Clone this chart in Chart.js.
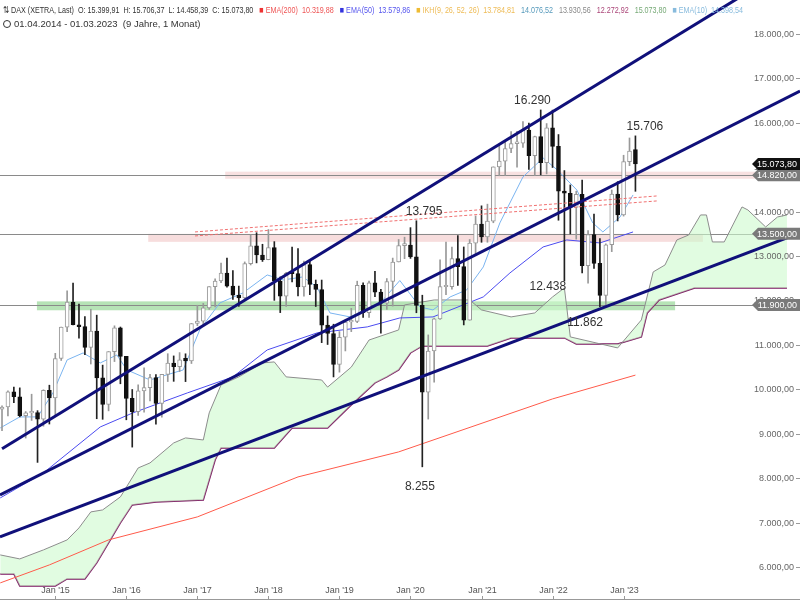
<!DOCTYPE html>
<html><head><meta charset="utf-8">
<script src="https://cdn.jsdelivr.net/npm/chart.js@4"></script>
<style>html,body{margin:0;padding:0;background:#fff}#w{width:800px;height:600px}</style>
</head><body><div id="w"><canvas id="c"></canvas></div>
<script>
// month index 0 = Apr 2014
const opens=[9556,9603,9943,9833,9407,9470,9474,9327,9980,
9806,10694,11402,11966,11454,11413,10945,11309,10259,9660,10850,11382,
10743,9798,9495,9966,10039,10263,9680,10337,10593,10511,10665,10640,
11481,11535,11834,12313,12438,12615,12325,12118,12056,12829,13230,13024,
12918,13189,12436,12097,12612,12605,12306,12806,12364,12247,11447,11257,
10559,11173,11516,11526,12344,11727,12399,12189,11939,12428,12867,13236,
13249,12982,11890,9936,10862,11587,12311,12313,12945,12761,11556,13291,
13719,13433,13786,15008,15136,15421,15531,15544,15835,15260,15689,15100,
15885,15471,14461,14415,14098,14388,12784,13484,12835,12114,13254,14397,
13924,15128,15400];
const highs=[9628,9964,10051,10033,9500,9890,9520,9990,10093,
10810,11401,12219,12391,11920,11635,11803,11670,10545,10850,11430,11403,
10743,9996,10104,10486,10335,10330,10337,10802,10752,10827,10800,11482,
11893,11934,12313,12486,12841,12952,12676,12324,12868,13479,13526,13266,
13597,13325,12530,12634,13204,13170,12887,12888,12461,12460,11652,11466,
11300,11563,11823,12435,12400,12438,12656,12250,12494,12955,13374,13425,
13640,13795,12119,11225,11602,12913,13314,13200,13461,13205,13373,13903,
14131,14169,15008,15502,15568,15803,15810,16030,15992,15700,16290,15983,
16285,15736,14925,14601,14460,14710,13572,13947,13392,13278,14488,14675,
15270,15659,15706];
const lows=[9070,9400,9700,9380,8903,9300,8355,9170,9219,
9382,10650,11300,11450,11150,10780,10570,9338,9325,9515,10625,10125,
9314,8699,9412,9484,9737,9214,9373,10175,10180,10399,10174,10581,
11432,11451,11800,11855,12400,12300,12025,11868,12010,12800,12847,12879,
12916,12003,11727,11867,12416,12104,12100,12129,11865,11051,11009,10279,
10387,10864,11299,11500,11620,11620,12088,11266,11800,11874,12867,12942,
12948,11724,8255,9330,10160,11571,12131,12253,12340,11450,11556,13047,
13310,13311,13750,14808,14816,15327,15000,15448,14950,14818,14830,14850,
14994,13807,12438,13500,13381,12618,12391,12720,11862,11869,13100,13791,
13900,15036,14458];
const closes=[9603,9943,9833,9407,9470,9474,9327,9980,9806,
10694,11402,11966,11454,11413,10945,11309,10259,9660,10850,11382,10743,
9798,9495,9966,10039,10263,9680,10337,10593,10511,10665,10640,11481,
11535,11834,12313,12438,12615,12325,12118,12056,12829,13230,13024,12918,
13189,12436,12097,12612,12605,12306,12806,12364,12247,11447,11257,10559,
11173,11516,11526,12344,11727,12399,12189,11939,12428,12867,13236,13249,
12982,11890,9936,10862,11587,12311,12313,12945,12761,11556,13291,13719,
13433,13786,15008,15136,15421,15531,15544,15835,15260,15689,15100,15885,
15471,14461,14415,14098,14388,12784,13484,12835,12114,13254,14397,13924,
15128,15365,15074];
// indicator lines: [monthIndex, value]
const ema10=[[-0.3,9131],[3,9379],[6,9379],[8.6,9919],[11,10662],[13.7,10819],[16.6,10594],[19.4,10774],[21.1,10437],[25,10211],[30.6,10437],[33.4,11337],[36.8,11945],[40.7,12170],[44.8,12575],[47.5,12462],[50.8,12530],[53.2,12305],[55.4,11720],[58.8,11630],[63.9,11945],[67.2,12450],[70.6,11855],[72.8,11787],[75.7,12080],[78.5,12238],[81.3,12755],[84.1,13746],[88,14781],[91.4,15209],[93.8,14939],[97.1,14488],[99.8,13746],[101.5,13543],[104.4,13880],[106.6,14376]];
const ema50=[[-0.3,7555],[7,8118],[16.6,9153],[22.1,9469],[31.3,9919],[39,10279],[44.8,10887],[53.2,11269],[61.7,11405],[67.2,11607],[72.8,11630],[81.3,12080],[85.8,12620],[91.4,13205],[95.4,13363],[101,13296],[106.6,13543]];
const ema200=[[-0.3,5642],[8,6047],[18,6610],[33,7128],[50,8028],[67,8591],[93,9784],[107,10320]];
const ichiA=[[-0.3,6272],[3,6182],[7,6385],[11,6610],[13,6880],[15,7240],[17,7285],[20,7578],[23,8230],[25,8343],[29,8793],[31,8906],[34,8860],[35,9470],[37,10100],[40,10280],[44,10595],[46,10617],[48,10280],[54,10210],[55,10050],[59,10500],[62,11110],[67,11337],[68,11900],[73,12012],[79,12012],[81,11787],[86,11630],[90,11720],[93,12080],[95,12283],[96,11180],[104,10932],[108,11562],[110,12643],[112,12800],[114,13363],[116,13475],[118,13926],[119,13926],[120,13318],[122,13318],[125,14106],[126,14038],[129,13655],[131,13880],[132.6,13926]];
const ichiB=[[-0.3,5845],[2,5845],[3,5575],[9,5575],[11,5732],[14,5732],[16,6092],[18,6542],[20,6993],[22,7398],[26,7465],[34,7510],[36,8410],[37,8680],[46,8680],[49,9130],[55,9130],[59,9650],[63,10144],[65,10280],[67,10437],[69,10819],[71,10977],[82,10977],[86,11157],[95,11157],[97,11022],[104,11022],[108,11180],[109,11720],[111,12012],[114,12147],[117,12283],[132.6,12283]];
const trend1=[[0,8660],[125.5,18900]];
const trend2=[[-0.34,7623],[134.8,16717]];
const trend3=[[-0.34,6677],[134.8,13520]];
const redDash1=[[32.6,13453],[110.6,14241]];
const redDash2=[[32.6,13543],[110.6,14353]];
const hLevels=[14820,13500,11900];
const bands=[[37.7,134.8,14740,14900,'rgba(235,170,170,0.35)'],[24.7,118.4,13320,13500,'rgba(235,170,170,0.4)'],[5.9,113.7,11780,11980,'rgba(110,200,110,0.5)']];
// [monthIndex, value, text, pixel offset of label]
const notes=[[89.6,16290,'16.290',-9],[108.6,15706,'15.706',-9],[71.3,13795,'13.795',-9],[92.2,12438,'12.438',6],[98.5,11862,'11.862',16],[70.6,8255,'8.255',20]];
const yTicks=[6000,7000,8000,9000,10000,11000,12000,13000,14000,15000,16000,17000,18000];
const xTickIdx=[9,21,33,45,57,69,81,93,105];
const xTickLbl=["Jan '15","Jan '16","Jan '17","Jan '18","Jan '19","Jan '20","Jan '21","Jan '22","Jan '23"];
const lastClose=15073.80;

const fmt=v=>v.toLocaleString('de-DE',{minimumFractionDigits:2,maximumFractionDigits:2});
const pts=a=>a.map(p=>({x:p[0],y:p[1]}));
const idx=opens.map((_,i)=>i);
const up=i=>closes[i]>=opens[i];
const line=(d,c,w,o,extra)=>Object.assign({type:'line',data:pts(d),borderColor:c,borderWidth:w,pointRadius:0,tension:0,order:o,fill:false},extra||{});
const F='"Liberation Sans",Arial';
const headerSegs=[['⇅ DAX (XETRA, Last)  O: 15.399,91  H: 15.706,37  L: 14.458,39  C: 15.073,80   ','#333'],
 ['■ ','#e33'],['EMA(200)  10.319,88   ','#e55'],['■ ','#33d'],['EMA(50)  13.579,86   ','#55e'],
 ['■ ','#eb3'],['IKH(9, 26, 52, 26)  13.784,81   ','#eb5'],['14.076,52   ','#59b'],['13.930,56   ','#888'],['12.272,92   ','#a47'],['15.073,80   ','#7a7'],['■ ','#8bd'],['EMA(10)  14.398,54','#8bd']];

const overlay={id:'ov',
beforeDatasetsDraw(ch){const {ctx,chartArea:a,scales:{x,y}}=ch;ctx.save();
 bands.forEach(b=>{ctx.fillStyle=b[4];const x1=x.getPixelForValue(b[0]),x2=x.getPixelForValue(b[1]),y1=y.getPixelForValue(b[3]),y2=y.getPixelForValue(b[2]);ctx.fillRect(x1,y1,x2-x1,y2-y1);});
 ctx.strokeStyle='#8a8a8a';ctx.lineWidth=1;hLevels.forEach(v=>{const py=Math.round(y.getPixelForValue(v))+0.5;ctx.beginPath();ctx.moveTo(a.left,py);ctx.lineTo(a.right,py);ctx.stroke();});
 ctx.restore();},
afterDatasetsDraw(ch){const {ctx,chartArea:a,scales:{x,y}}=ch;ctx.save();
 ctx.textBaseline='middle';
 ctx.font='9px '+F;ctx.fillStyle='#666';ctx.textAlign='right';ctx.strokeStyle='#999';ctx.lineWidth=1;
 yTicks.forEach(v=>{const py=Math.round(y.getPixelForValue(v))+0.5;ctx.fillText(fmt(v),794,py);ctx.beginPath();ctx.moveTo(796,py);ctx.lineTo(800,py);ctx.stroke();});
 ctx.textAlign='center';ctx.fillStyle='#555';
 ctx.beginPath();ctx.moveTo(0,599.5);ctx.lineTo(800,599.5);ctx.stroke();
 xTickIdx.forEach((v,k)=>{const px=Math.round(x.getPixelForValue(v))+0.5;ctx.fillText(xTickLbl[k],px,591);ctx.beginPath();ctx.moveTo(px,596);ctx.lineTo(px,600);ctx.stroke();});
 ctx.font='12px '+F;ctx.fillStyle='#333';
 notes.forEach(n=>ctx.fillText(n[2],x.getPixelForValue(n[0]),y.getPixelForValue(n[1])+n[3]));
 const tag=(v,bg,fg)=>{const py=y.getPixelForValue(v);ctx.fillStyle=bg;ctx.beginPath();ctx.moveTo(752,py);ctx.lineTo(758,py-6);ctx.lineTo(800,py-6);ctx.lineTo(800,py+6);ctx.lineTo(758,py+6);ctx.closePath();ctx.fill();ctx.fillStyle=fg;ctx.font='9px '+F;ctx.textAlign='right';ctx.fillText(fmt(v),797,py+0.5);};
 hLevels.forEach(v=>tag(v,'#7a7a7a','#fff'));tag(lastClose,'#111','#fff');
 // header, squeezed horizontally to its width in the original
 ctx.textAlign='left';ctx.font='9.5px '+F;
 const tot=headerSegs.reduce((s,g)=>s+ctx.measureText(g[0]).width,0);
 const k=(743-3)/tot;
 ctx.save();ctx.translate(3,0);ctx.scale(k,1);let xx=0;
 headerSegs.forEach(g=>{ctx.fillStyle=g[1];ctx.fillText(g[0],xx,10);xx+=ctx.measureText(g[0]).width;});
 ctx.restore();
 ctx.fillStyle='#333';ctx.strokeStyle='#333';ctx.beginPath();ctx.arc(7,24,3.5,0,Math.PI*2);ctx.stroke();
 ctx.font='9.5px '+F;ctx.fillText('01.04.2014 - 01.03.2023  (9 Jahre, 1 Monat)',14,24);
 ctx.restore();}};

new Chart(document.getElementById('c'),{
data:{datasets:[
 {type:'bar',data:idx.map(i=>({x:i,y:[lows[i],highs[i]]})),backgroundColor:idx.map(i=>up(i)?'#999':'#222'),barThickness:1,grouped:false,order:5},
 {type:'bar',data:idx.map(i=>({x:i,y:[Math.min(opens[i],closes[i]),Math.max(opens[i],closes[i])+(Math.abs(opens[i]-closes[i])<30?30:0)]})),backgroundColor:idx.map(i=>up(i)?'#fff':'#111'),borderColor:idx.map(i=>up(i)?'#999':'#111'),borderWidth:1,borderSkipped:false,barThickness:4,grouped:false,order:4},
 line(ema10,'#7ab4f0',1,6),line(ema50,'#4b4bf0',1,6),line(ema200,'#ff5a4a',1,6),
 line(ichiA,'#8c8c8c',1,8,{fill:{target:'+1'},backgroundColor:'rgba(205,250,205,0.6)'}),
 line(ichiB,'#7b1560',1.5,8),
 line(redDash1,'#f07070',1,3,{borderDash:[3,2]}),line(redDash2,'#f07070',1,3,{borderDash:[3,2]}),
 line(trend1,'#10107a',3,1),line(trend2,'#10107a',3,1),line(trend3,'#10107a',3,1)
]},
options:{responsive:true,maintainAspectRatio:false,animation:false,events:[],
 layout:{padding:0},
 plugins:{legend:{display:false},tooltip:{enabled:false}},
 scales:{
  x:{type:'linear',display:false,min:-0.34,max:134.8,offset:false},
  y:{display:false,min:5257,max:18765}
 }},
plugins:[overlay]});
</script></body></html>
